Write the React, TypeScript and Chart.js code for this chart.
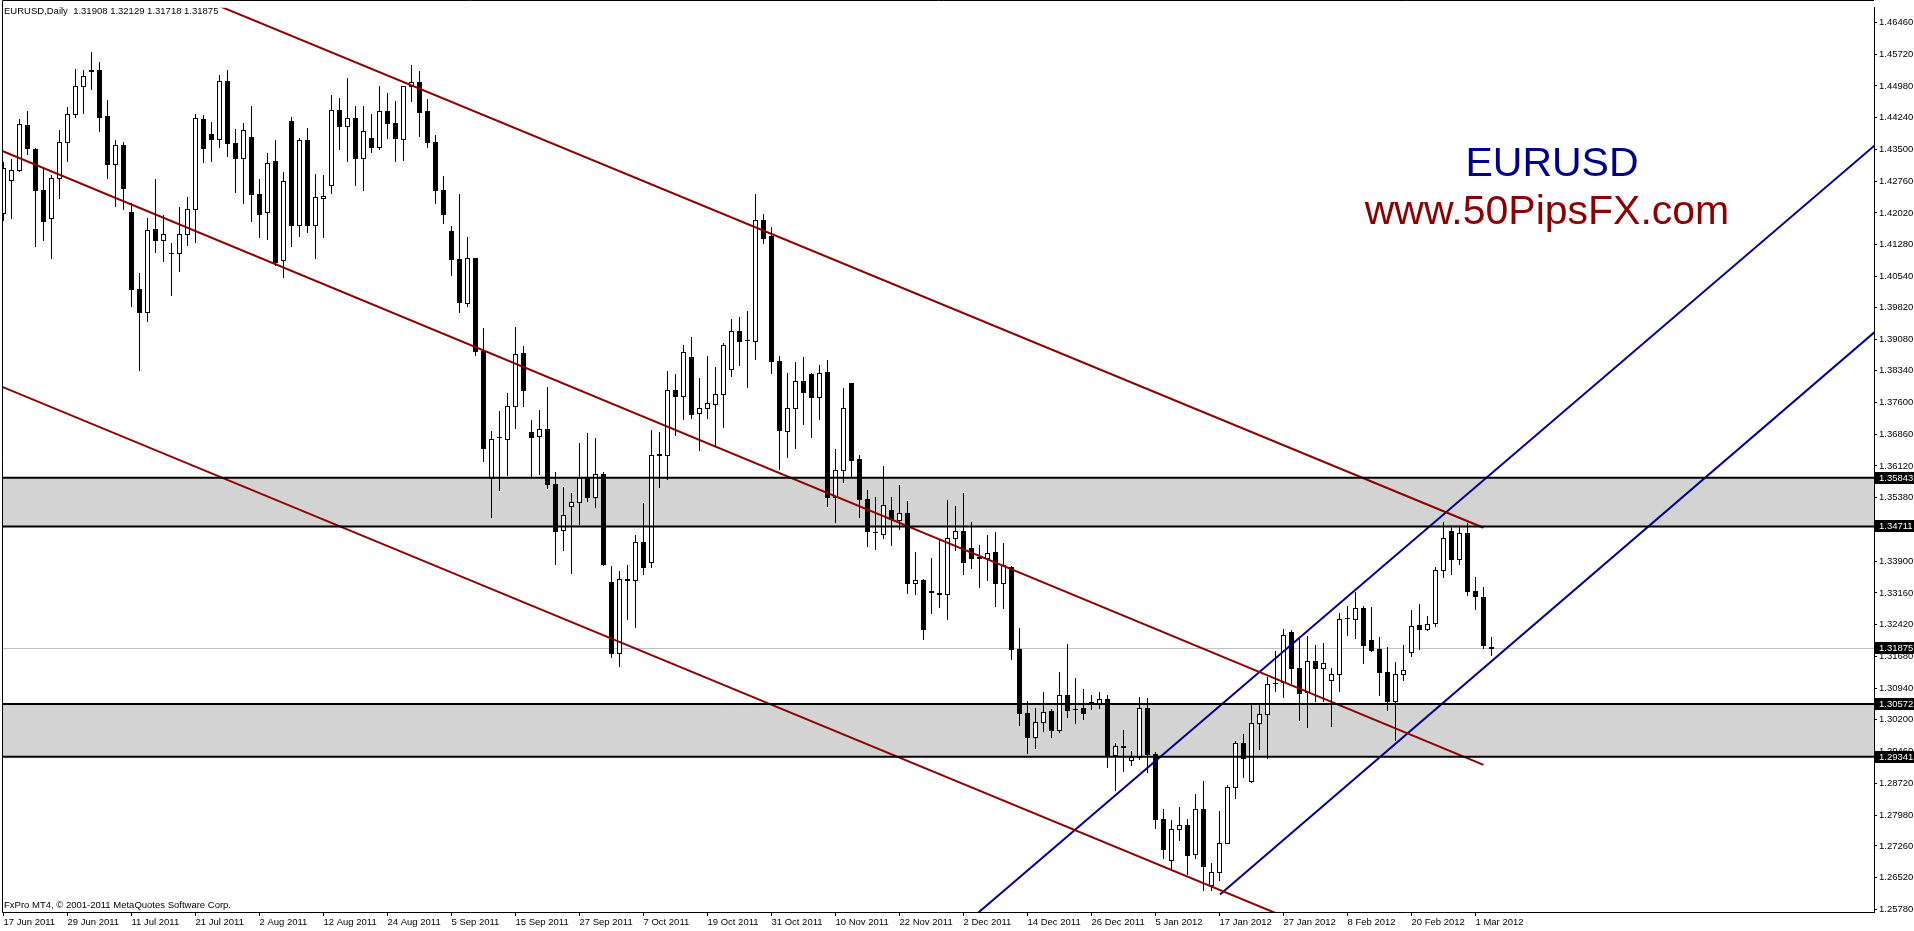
import { useEffect, useRef } from "react";
import { Chart, registerables } from "chart.js";

Chart.register(...registerables);

// ---------- DATA ----------
const dateLabels = [
  "17 Jun 2011", "29 Jun 2011", "11 Jul 2011", "21 Jul 2011", "2 Aug 2011", "12 Aug 2011",
  "24 Aug 2011", "5 Sep 2011", "15 Sep 2011", "27 Sep 2011", "7 Oct 2011", "19 Oct 2011",
  "31 Oct 2011", "10 Nov 2011", "22 Nov 2011", "2 Dec 2011", "14 Dec 2011", "26 Dec 2011",
  "5 Jan 2012", "17 Jan 2012", "27 Jan 2012", "8 Feb 2012", "20 Feb 2012", "1 Mar 2012",
];
const barsPerLabel = 8;

const priceTicks = [
  1.4646, 1.4572, 1.4498, 1.4424, 1.435, 1.4276, 1.4202, 1.4128, 1.4054, 1.3982,
  1.3908, 1.3834, 1.376, 1.3686, 1.3612, 1.3538, 1.3464, 1.339, 1.3316, 1.3242,
  1.3168, 1.3094, 1.302, 1.2946, 1.2872, 1.2798, 1.2726, 1.2652, 1.2578,
];

const opens = [
  1.4201, 1.4278, 1.4301, 1.4407, 1.4351, 1.4255, 1.4189, 1.4284, 1.4367, 1.4432,
  1.4499, 1.4532, 1.4536, 1.4428, 1.4317, 1.4361, 1.4203, 1.4025, 1.3972, 1.4164,
  1.4138, 1.4109, 1.4108, 1.4152, 1.4212, 1.4421, 1.4386, 1.4374, 1.4509, 1.4365,
  1.4330, 1.4380, 1.4246, 1.4203, 1.4322, 1.4092, 1.4417, 1.4175, 1.4373, 1.4175,
  1.4236, 1.4266, 1.4442, 1.4404, 1.4423, 1.4330, 1.4377, 1.4355, 1.4439, 1.4411,
  1.4374, 1.4498, 1.4508, 1.4439, 1.4368, 1.4256, 1.4160, 1.4094, 1.3993, 1.4096,
  1.3880, 1.3585, 1.3680, 1.3675, 1.3751, 1.3876, 1.3692, 1.3682, 1.3698, 1.3569,
  1.3463, 1.3519, 1.3529, 1.3583, 1.3539, 1.3594, 1.3341, 1.3175, 1.3348, 1.3345,
  1.3435, 1.3387, 1.3638, 1.3638, 1.3789, 1.3776, 1.3866, 1.3736, 1.3748, 1.3757,
  1.3779, 1.3839, 1.3927, 1.3905, 1.3903, 1.4186, 1.4148, 1.3856, 1.3693, 1.3746,
  1.3811, 1.3826, 1.3773, 1.3832, 1.3539, 1.3603, 1.3806, 1.3628, 1.3536, 1.3458,
  1.3454, 1.3509, 1.3487, 1.3502, 1.3340, 1.3347, 1.3320, 1.3315, 1.3313, 1.3444,
  1.3461, 1.3421, 1.3399, 1.3397, 1.3411, 1.3338, 1.3376, 1.3185, 1.3035, 1.2980,
  1.3015, 1.3041, 1.2996, 1.3079, 1.3046, 1.3048, 1.3062, 1.3060, 1.3068, 1.2938,
  1.2958, 1.2927, 1.2933, 1.3047, 1.2941, 1.2788, 1.2693, 1.2765, 1.2775, 1.2708,
  1.2812, 1.2635, 1.2665, 1.2734, 1.2863, 1.2967, 1.2877, 1.3013, 1.3033, 1.3106,
  1.3108, 1.3225, 1.3141, 1.3084, 1.3157, 1.3141, 1.3114, 1.3127, 1.3257, 1.3256,
  1.3281, 1.3206, 1.3185, 1.3131, 1.3064, 1.3127, 1.3179, 1.3241, 1.3231, 1.3245,
  1.3369, 1.3461, 1.3394, 1.3455, 1.3321, 1.3307, 1.31908,
];
const highs = [
  1.4320, 1.4327, 1.4421, 1.4440, 1.4353, 1.4305, 1.4290, 1.4396, 1.4448, 1.4538,
  1.4536, 1.4577, 1.4553, 1.4465, 1.4373, 1.4368, 1.4224, 1.4061, 1.4191, 1.4280,
  1.4197, 1.4131, 1.4215, 1.4238, 1.4432, 1.4431, 1.4414, 1.4523, 1.4535, 1.4397,
  1.4411, 1.4451, 1.4280, 1.4342, 1.4371, 1.4297, 1.4425, 1.4376, 1.4401, 1.4292,
  1.4290, 1.4476, 1.4471, 1.4516, 1.4451, 1.4451, 1.4432, 1.4498, 1.4482, 1.4462,
  1.4499, 1.4548, 1.4534, 1.4467, 1.4384, 1.4287, 1.4172, 1.4246, 1.4147, 1.4097,
  1.3934, 1.3693, 1.3739, 1.3781, 1.3936, 1.3892, 1.3718, 1.3742, 1.3795, 1.3599,
  1.3564, 1.3548, 1.3666, 1.3690, 1.3678, 1.3599, 1.3379, 1.3368, 1.3382, 1.3450,
  1.3525, 1.3696, 1.3691, 1.3833, 1.3826, 1.3894, 1.3913, 1.3817, 1.3869, 1.3842,
  1.3899, 1.3955, 1.3960, 1.3974, 1.4245, 1.4200, 1.4169, 1.3868, 1.3828, 1.3854,
  1.3867, 1.3828, 1.3847, 1.3858, 1.3652, 1.3793, 1.3806, 1.3638, 1.3555, 1.3539,
  1.3613, 1.3539, 1.3567, 1.3530, 1.3411, 1.3349, 1.3397, 1.3440, 1.3533, 1.3519,
  1.3548, 1.3482, 1.3427, 1.3451, 1.3458, 1.3432, 1.3378, 1.3234, 1.3063, 1.3048,
  1.3084, 1.3046, 1.3131, 1.3197, 1.3117, 1.3093, 1.3079, 1.3084, 1.3079, 1.2966,
  1.2997, 1.2947, 1.3074, 1.3070, 1.2945, 1.2813, 1.2787, 1.2817, 1.2790, 1.2846,
  1.2877, 1.2687, 1.2808, 1.2869, 1.2970, 1.2986, 1.3059, 1.3060, 1.3120, 1.3181,
  1.3232, 1.3229, 1.3212, 1.3216, 1.3194, 1.3200, 1.3140, 1.3268, 1.3285, 1.3319,
  1.3285, 1.3282, 1.3213, 1.3189, 1.3154, 1.3195, 1.3275, 1.3291, 1.3263, 1.3376,
  1.3482, 1.3475, 1.3475, 1.3478, 1.3352, 1.3330, 1.32129,
];
const lows = [
  1.4186, 1.4189, 1.4300, 1.4340, 1.4124, 1.4138, 1.4098, 1.4236, 1.4324, 1.4425,
  1.4434, 1.4492, 1.4392, 1.4283, 1.4219, 1.4210, 1.3984, 1.3835, 1.3949, 1.4112,
  1.4089, 1.4011, 1.4066, 1.4128, 1.4135, 1.4320, 1.4322, 1.4355, 1.4334, 1.4251,
  1.4226, 1.4182, 1.4147, 1.4141, 1.4081, 1.4052, 1.4126, 1.4149, 1.4158, 1.4098,
  1.4147, 1.4249, 1.4351, 1.4323, 1.4266, 1.4256, 1.4344, 1.4351, 1.4376, 1.4324,
  1.4326, 1.4463, 1.4381, 1.4355, 1.4224, 1.4179, 1.4057, 1.3970, 1.3985, 1.3870,
  1.3623, 1.3492, 1.3555, 1.3590, 1.3701, 1.3751, 1.3585, 1.3593, 1.3560, 1.3383,
  1.3416, 1.3362, 1.3477, 1.3531, 1.3517, 1.3381, 1.3166, 1.3145, 1.3256, 1.3237,
  1.3360, 1.3376, 1.3564, 1.3581, 1.3685, 1.3722, 1.3724, 1.3649, 1.3724, 1.3659,
  1.3703, 1.3821, 1.3847, 1.3795, 1.3861, 1.4132, 1.3828, 1.3605, 1.3633, 1.3654,
  1.3710, 1.3679, 1.3722, 1.3519, 1.3481, 1.3575, 1.3588, 1.3494, 1.3425, 1.3418,
  1.3444, 1.3428, 1.3465, 1.3316, 1.3314, 1.3209, 1.3270, 1.3283, 1.3256, 1.3416,
  1.3360, 1.3374, 1.3330, 1.3347, 1.3286, 1.3280, 1.3161, 1.3008, 1.2943, 1.2954,
  1.2994, 1.2980, 1.2992, 1.3027, 1.3013, 1.3023, 1.3046, 1.3048, 1.2910, 1.2856,
  1.2900, 1.2914, 1.2928, 1.2899, 1.2769, 1.2698, 1.2669, 1.2740, 1.2660, 1.2698,
  1.2623, 1.2624, 1.2647, 1.2734, 1.2838, 1.2886, 1.2875, 1.2953, 1.2930, 1.3088,
  1.3074, 1.3105, 1.3019, 1.3004, 1.3064, 1.3065, 1.3006, 1.3087, 1.3219, 1.3212,
  1.3153, 1.3181, 1.3078, 1.3043, 1.2973, 1.3114, 1.3168, 1.3185, 1.3229, 1.3239,
  1.3352, 1.3361, 1.3384, 1.3311, 1.3279, 1.3187, 1.31718,
];
const closes = [
  1.4307, 1.4301, 1.4409, 1.4353, 1.4255, 1.4184, 1.4284, 1.4367, 1.4432, 1.4499,
  1.4522, 1.4536, 1.4425, 1.4317, 1.4361, 1.4260, 1.4025, 1.3972, 1.4162, 1.4138,
  1.4152, 1.4108, 1.4152, 1.4211, 1.4423, 1.4353, 1.4374, 1.4509, 1.4364, 1.4330,
  1.4395, 1.4246, 1.4200, 1.4319, 1.4088, 1.4277, 1.4175, 1.4372, 1.4175, 1.4238,
  1.4242, 1.4442, 1.4404, 1.4423, 1.4330, 1.4392, 1.4355, 1.4439, 1.4411, 1.4376,
  1.4498, 1.4508, 1.4438, 1.4367, 1.4256, 1.4200, 1.4094, 1.3995, 1.4096, 1.3880,
  1.3654, 1.3675, 1.3679, 1.3751, 1.3874, 1.3790, 1.3680, 1.3698, 1.3569, 1.3461,
  1.3498, 1.3529, 1.3583, 1.3539, 1.3594, 1.3384, 1.3175, 1.3348, 1.3347, 1.3435,
  1.3376, 1.3638, 1.3640, 1.3789, 1.3774, 1.3878, 1.3734, 1.3748, 1.3759, 1.3779,
  1.3894, 1.3927, 1.3903, 1.3906, 1.4186, 1.4144, 1.3856, 1.3696, 1.3746, 1.3811,
  1.3785, 1.3773, 1.3829, 1.3539, 1.3603, 1.3746, 1.3627, 1.3536, 1.3460, 1.3457,
  1.3520, 1.3489, 1.3502, 1.3340, 1.3346, 1.3232, 1.3319, 1.3314, 1.3444, 1.3461,
  1.3388, 1.3397, 1.3398, 1.3409, 1.3338, 1.3380, 1.3185, 1.3035, 1.2980, 1.3015,
  1.3039, 1.2996, 1.3079, 1.3044, 1.3045, 1.3037, 1.3061, 1.3068, 1.2938, 1.2959,
  1.2957, 1.2933, 1.3048, 1.2941, 1.2788, 1.2719, 1.2765, 1.2775, 1.2706, 1.2812,
  1.2679, 1.2665, 1.2734, 1.2863, 1.2967, 1.2930, 1.3013, 1.3033, 1.3104, 1.3105,
  1.3217, 1.3141, 1.3082, 1.3157, 1.3141, 1.3152, 1.3127, 1.3256, 1.3258, 1.3281,
  1.3194, 1.3183, 1.3131, 1.3064, 1.3127, 1.3137, 1.3240, 1.3231, 1.3244, 1.3369,
  1.3443, 1.3394, 1.3455, 1.3321, 1.3309, 1.3194, 1.31875,
];

// support / resistance zones [upper, lower]
const zoneBands = [
  [1.35843, 1.34711],
  [1.30572, 1.29341],
];
const levelLines = [1.35843, 1.34711, 1.30572, 1.29341];
const bidPrice = 1.31875;
const priceTags = [1.35843, 1.34711, 1.31875, 1.30572, 1.29341];

// trend channel lines (bar index, price)
const redChannel = [
  [{ x: 20, y: 1.4738 }, { x: 185, y: 1.3468 }],
  [{ x: -1, y: 1.4353 }, { x: 185, y: 1.2915 }],
  [{ x: -1, y: 1.3803 }, { x: 160, y: 1.2562 }],
];
const blueChannel = [
  [{ x: 120, y: 1.2541 }, { x: 234, y: 1.4361 }],
  [{ x: 152.06, y: 1.2613 }, { x: 234, y: 1.3926 }],
];

const headerText = "EURUSD,Daily  1.31908 1.32129 1.31718 1.31875";
const copyrightText = "FxPro MT4, \u00a9 2001-2011 MetaQuotes Software Corp.";
const titleText = "EURUSD";
const siteText = "www.50PipsFX.com";

// ---------- STYLE ----------
const W = 1914;
const H = 931;
const FONT = "Liberation Sans";
const FS = 9.5;
const RED = "#8b0000";
const BLUE = "#00008b";

const mtPlugin = {
  id: "mt4",
  beforeDraw(chart: any) {
    const { ctx } = chart;
    ctx.save();
    ctx.fillStyle = "#ffffff";
    ctx.fillRect(0, 0, chart.width, chart.height);
    ctx.restore();
  },
  beforeDatasetsDraw(chart: any) {
    const { ctx, chartArea: a, scales } = chart;
    const x = scales.x;
    const y = scales.y;
    ctx.save();
    ctx.beginPath();
    ctx.rect(a.left, a.top, a.right - a.left, a.bottom - a.top);
    ctx.clip();
    ctx.fillStyle = "#d3d3d3";
    for (const [hi, lo] of zoneBands) {
      const y1 = y.getPixelForValue(hi);
      const y2 = y.getPixelForValue(lo);
      ctx.fillRect(a.left, y1, a.right - a.left, y2 - y1);
    }
    const by = Math.round(y.getPixelForValue(bidPrice)) + 0.5;
    ctx.strokeStyle = "#c0c0c0";
    ctx.lineWidth = 1;
    ctx.beginPath();
    ctx.moveTo(a.left, by);
    ctx.lineTo(a.right, by);
    ctx.stroke();
    for (let i = 0; i < opens.length; i++) {
      const cx = Math.floor(x.getPixelForValue(i));
      const yH = Math.round(y.getPixelForValue(highs[i]));
      const yL = Math.round(y.getPixelForValue(lows[i]));
      const yO = Math.round(y.getPixelForValue(opens[i]));
      const yC = Math.round(y.getPixelForValue(closes[i]));
      const top = Math.min(yO, yC);
      const bot = Math.max(yO, yC);
      ctx.fillStyle = "#000";
      ctx.fillRect(cx, yH, 1, yL - yH + 1);
      ctx.fillRect(cx - 2, top, 5, bot - top + 1);
      if (closes[i] > opens[i] && bot - top >= 2) {
        ctx.fillStyle = "#fff";
        ctx.fillRect(cx - 1, top + 1, 3, bot - top - 1);
      }
    }
    ctx.restore();
  },
  afterDraw(chart: any) {
    const { ctx, chartArea: a, scales } = chart;
    const y = scales.y;
    ctx.save();
    // frame (left / top)
    ctx.strokeStyle = "#000";
    ctx.lineWidth = 1;
    ctx.beginPath();
    ctx.moveTo(a.left + 0.5, a.bottom);
    ctx.lineTo(a.left + 0.5, 0.5);
    ctx.lineTo(a.right, 0.5);
    ctx.stroke();
    // price tags
    ctx.font = `${FS}px "${FONT}"`;
    ctx.textBaseline = "middle";
    ctx.textAlign = "left";
    for (const p of priceTags) {
      const py = Math.round(y.getPixelForValue(p));
      ctx.fillStyle = "#000";
      ctx.fillRect(a.right + 1, py - 6, W - a.right - 1, 12);
      ctx.fillStyle = "#fff";
      ctx.fillText(p.toFixed(5), a.right + 5, py);
    }
    // header & copyright
    ctx.fillStyle = "#000";
    ctx.fillText(headerText, 4, 11);
    ctx.fillText(copyrightText, 4, 905);
    // watermark texts
    ctx.textAlign = "center";
    ctx.textBaseline = "alphabetic";
    ctx.font = `41px "${FONT}"`;
    ctx.fillStyle = BLUE;
    ctx.fillText(titleText, 1552, 176);
    ctx.fillStyle = RED;
    ctx.fillText(siteText, 1547, 224);
    ctx.restore();
  },
};

export default function App() {
  const ref = useRef<HTMLCanvasElement | null>(null);
  useEffect(() => {
    document.body.style.margin = "0";
    document.body.style.overflow = "hidden";
    const canvas = ref.current;
    if (!canvas) return;
    const lineSet = (pts: any[], color: string, width: number) => ({
      data: pts,
      borderColor: color,
      borderWidth: width,
      pointRadius: 0,
      fill: false,
      tension: 0,
      clip: 0,
    });
    const datasets: any[] = [];
    for (const lv of levelLines) {
      datasets.push(lineSet([{ x: -1, y: lv }, { x: 240, y: lv }], "#000", 2));
    }
    for (const l of redChannel) datasets.push(lineSet(l, RED, 2));
    for (const l of blueChannel) datasets.push(lineSet(l, BLUE, 2));

    const tickFont = { family: FONT, size: FS };
    const chart = new Chart(canvas, {
      type: "line",
      data: { datasets },
      options: {
        animation: false,
        responsive: false,
        devicePixelRatio: 1,
        events: [],
        layout: { padding: { left: 2, top: 1, right: 0, bottom: 0 } },
        plugins: { legend: { display: false }, tooltip: { enabled: false } },
        scales: {
          x: {
            type: "linear",
            position: "bottom",
            min: -0.1875,
            max: 233.8125,
            afterBuildTicks: (s: any) => {
              s.ticks = dateLabels.map((_, k) => ({ value: k * barsPerLabel }));
            },
            afterFit: (s: any) => {
              s.height = 19;
            },
            ticks: {
              autoSkip: false,
              maxRotation: 0,
              minRotation: 0,
              align: "start",
              padding: 1,
              color: "#000",
              font: tickFont,
              callback: (v: any) => dateLabels[Math.round(Number(v) / barsPerLabel)] ?? "",
            },
            grid: { drawOnChartArea: false, drawTicks: true, tickLength: 4, color: "#000" },
            border: { display: true, color: "#000", width: 1 },
          },
          y: {
            type: "linear",
            position: "right",
            min: 1.2572,
            max: 1.46805,
            afterBuildTicks: (s: any) => {
              s.ticks = priceTicks.map((v) => ({ value: v }));
            },
            afterFit: (s: any) => {
              s.width = W - 1874;
            },
            ticks: {
              autoSkip: false,
              padding: 2,
              color: "#000",
              font: tickFont,
              callback: (v: any) => Number(v).toFixed(5),
            },
            grid: { drawOnChartArea: false, drawTicks: true, tickLength: 3, color: "#000" },
            border: { display: true, color: "#000", width: 1 },
          },
        },
      } as any,
      plugins: [mtPlugin],
    });
    return () => chart.destroy();
  }, []);
  return (
    <canvas
      ref={ref}
      width={W}
      height={H}
      style={{ display: "block", width: W + "px", height: H + "px" }}
    />
  );
}
